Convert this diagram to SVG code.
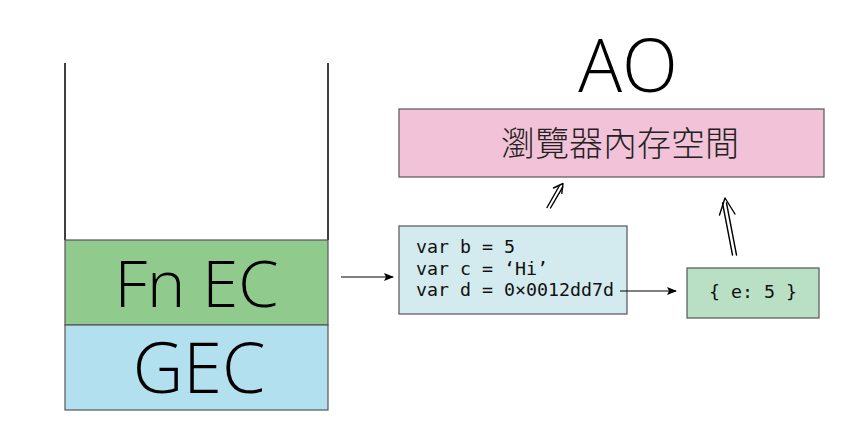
<svg xmlns="http://www.w3.org/2000/svg" width="842" height="436" viewBox="0 0 842 436">
<style>
.box{stroke:#555;stroke-width:1.2}
.big{font-family:"Open Sans","Liberation Sans",sans-serif;font-weight:300;fill:#000;text-anchor:middle}
.code{font-family:"DejaVu Sans Mono","Liberation Mono",monospace;font-size:18.3px;fill:#111}
.cjk{font-family:"Noto Sans CJK TC","Noto Sans",sans-serif;font-weight:300;font-size:34px;text-anchor:middle;fill:#222}
.ln{stroke:#000;stroke-width:1.2;fill:none}
.dbl{stroke:#000;stroke-width:1.4;fill:none;stroke-linecap:round;stroke-linejoin:round}
</style>
<defs>
<marker id="ah" markerWidth="10" markerHeight="8" refX="9" refY="4" orient="auto" markerUnits="userSpaceOnUse">
<path d="M0,0 L10,4 L0,8 L2,4 Z" fill="#000"/>
</marker>
</defs>
<rect width="842" height="436" fill="#fff"/>
<g id="stack">
<line x1="65" y1="63" x2="65" y2="240" stroke="#000" stroke-width="1.5"/>
<line x1="328" y1="63" x2="328" y2="240" stroke="#000" stroke-width="1.5"/>
</g>
<g id="fn-ec">
<rect x="65" y="240" width="263" height="85" fill="#90cb8d" class="box"/>
<text x="196.5" y="307" class="big" font-size="65">Fn EC</text>
</g>
<g id="gec">
<rect x="65" y="325" width="263" height="85" fill="#b3e0ee" class="box"/>
<text x="199" y="393" class="big" font-size="70">GEC</text>
</g>
<g id="ao-title">
<text x="628" y="92" class="big" font-size="73">AO</text>
</g>
<g id="memory">
<rect x="399" y="109" width="425" height="68" fill="#f2c2d8" class="box"/>
<text x="620" y="156" class="cjk">瀏覽器內存空間</text>
</g>
<g id="vars">
<rect x="399" y="226" width="228" height="88" fill="#d3ebee" class="box"/>
<text class="code"><tspan x="416" y="253">var b = 5</tspan><tspan x="416" y="274.5">var c = ‘Hi’</tspan><tspan x="416" y="296">var d = 0×0012dd7d</tspan></text>
</g>
<g id="obj">
<rect x="687" y="268" width="132" height="50" fill="#b9dfc4" class="box"/>
<text x="753" y="298" class="code" text-anchor="middle">{ e: 5 }</text>
</g>
<g id="connectors">
<line x1="341" y1="277" x2="393" y2="277" class="ln" marker-end="url(#ah)"/>
<line x1="620" y1="291" x2="676" y2="291" class="ln" marker-end="url(#ah)"/>
<path d="M547,207.5 L559.5,185.5 M550.5,208 L562.8,186.8" class="dbl"/>
<path d="M553.5,188 L563,183.5 L561.8,193.3" class="dbl"/>
<path d="M732.5,255 L722.5,203 M736.5,255 L726.5,203" class="dbl"/>
<path d="M719.5,215 L725,198 L735,214" class="dbl"/>
</g>
</svg>
